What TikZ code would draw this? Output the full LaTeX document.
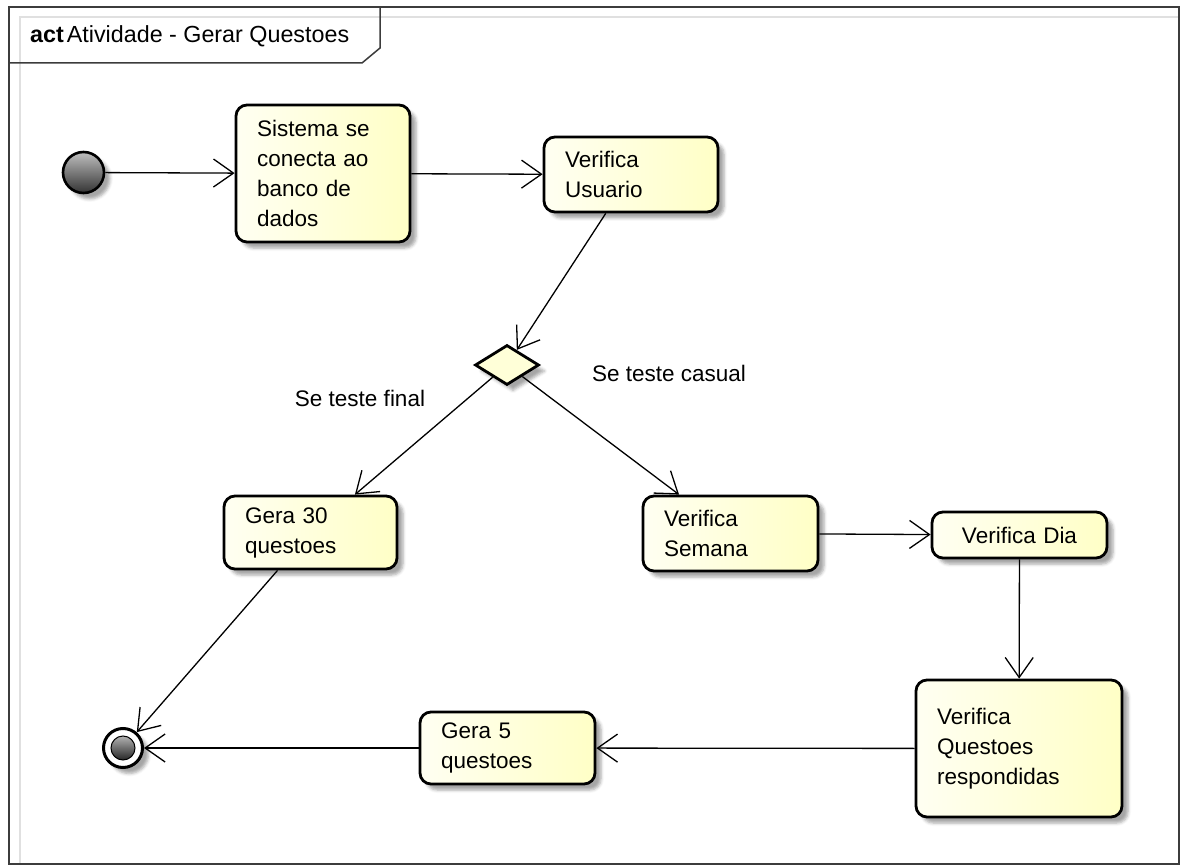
\documentclass[tikz,border=0pt]{standalone}
\usepackage{fontspec}
\setmainfont{Liberation Sans}
\usetikzlibrary{arrows.meta,shapes.geometric,shadows.blur}
\definecolor{ylight}{RGB}{255,255,242}
\definecolor{ydark}{RGB}{255,255,198}
\definecolor{framegray}{RGB}{60,60,60}
\begin{document}
\begin{tikzpicture}[x=1pt,y=-1pt,
  font=\fontsize{22.5}{30}\selectfont,
  shadowed/.style={blur shadow={shadow xshift=6pt,shadow yshift=-6pt,shadow blur radius=3pt,shadow opacity=35}},
  actbox/.style={draw=black, line width=2.8pt, rounded corners=11pt,
    shade, left color=ylight, right color=ydark,
    align=left, inner xsep=21pt, inner ysep=0pt, shadowed},
  decision/.style={diamond, draw=black, line width=2.8pt, fill=ydark!60!ylight,
    minimum width=64pt, minimum height=40pt, inner sep=0pt, shadowed},
  startnode/.style={circle, draw=black, line width=2.6pt, minimum size=41pt, inner sep=0pt,
    top color=black!25, bottom color=black!80, shadowed},
  endring/.style={circle, draw=black, line width=3pt, fill=white, minimum size=39pt, inner sep=0pt, shadowed},
  endcore/.style={circle, draw=black, line width=1pt, minimum size=24pt, inner sep=0pt,
    top color=black!30, bottom color=black!85},
  flow/.style={line width=1.3pt, -{Straight Barb[length=20pt,width=28pt,line width=1.3pt]}},
  guard/.style={anchor=base, inner sep=0pt}
]
\useasboundingbox (0,0) rectangle (1181,866);

% diagram frame with its name tab
\draw[black!12, line width=1.5pt] (20,864) -- (20,17) -- (1179,17);
\draw[framegray, line width=2pt] (9,7) rectangle (1179,864);
\draw[framegray, line width=1.5pt] (9,63) -- (362,63) -- (380,48) -- (380,7);
\node[anchor=base west, inner sep=0pt, font=\fontsize{23.3}{28}\selectfont] (title) at (30,43) {\textbf{act}\kern3pt Atividade - Gerar Questoes};

% actions
\node[startnode] (ini) at (83.5,172.5) {};
\node[actbox, text width=132pt, minimum height=137pt] (conn) at (323,173.5) {Sistema se\\conecta ao\\banco de\\dados};
\node[actbox, text width=132pt, minimum height=75pt] (user) at (631,174.5) {Verifica\\Usuario};
\node[decision] (dec) at (507,365) {};
\node[actbox, text width=131pt, minimum height=73pt] (g30) at (310.5,532.5) {Gera 30\\questoes};
\node[actbox, text width=133pt, minimum height=75pt] (week) at (730.5,533.5) {Verifica\\Semana};
\node[actbox, text width=133pt, minimum height=46pt, align=center] (day) at (1019.5,535) {Verifica Dia};
\node[actbox, text width=164pt, minimum height=137pt] (ans) at (1019,748.5) {Verifica\\Questoes\\respondidas};
\node[actbox, text width=133pt, minimum height=72pt] (g5) at (507.5,748) {Gera 5\\questoes};
\node[endring] (fin) at (123,748) {};
\node[endcore] (fincore) at (fin.center) {};

% control flows
\draw[flow] (ini) -- (conn);
\draw[flow] (conn) -- (user);
\draw[flow] (user) -- (dec);
\draw[flow] (dec) -- (g30);
\draw[flow] (dec) -- (week);
\draw[flow] (week) -- (day);
\draw[flow] (day) -- (ans);
\draw[flow] (ans) -- (g5);
\draw[flow] (g5) -- (fin);
\draw[flow] (g30) -- (fin);

% guards
\node[guard] (gfinal) at (360,407) {Se teste final};
\node[guard] (gcasual) at (669,382) {Se teste casual};
\end{tikzpicture}
\end{document}
